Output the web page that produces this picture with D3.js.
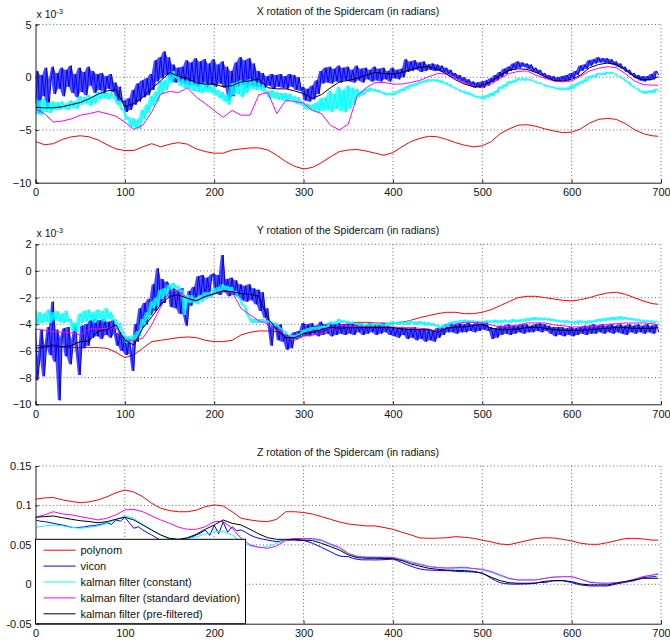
<!DOCTYPE html>
<html>
<head>
<meta charset="utf-8">
<script src="https://cdn.jsdelivr.net/npm/d3@7"></script>
<style>
  body { margin: 0; background: #fff; }
  text { font-family: Arial, "Liberation Sans", sans-serif; }
</style>
</head>
<body>
<svg id="chart" width="670" height="643"></svg>
<script>
// ----- sample times (smooth series every 10, mid every 5, noisy series every 2.5)
const t_slow = d3.range(0, 700, 10).concat([697]);
const t_mid = d3.range(0, 700, 5);
const t_fast = d3.range(0, 700, 2.5);

const legend_labels = ["polynom", "vicon", "kalman filter (constant)", "kalman filter (standard deviation)", "kalman filter (pre-filtered)"];
const series_colors = ["#ff0000", "#0000ff", "#00ffff", "#ff00ff", "#000000"];

// ----- X rotation (x 10^-3)
const x_polynom = [-6.1,-6.4,-6.3,-5.9,-5.65,-5.55,-5.65,-5.95,-6.4,-6.8,-6.95,-6.95,-6.6,-6.3,-6.6,-6.35,-6.2,-6.35,-6.8,-7.05,
  -7.2,-7.2,-6.9,-6.8,-6.7,-6.7,-6.9,-7.4,-8.0,-8.45,-8.7,-8.55,-8.1,-7.55,-7.05,-6.9,-6.85,-7.0,-7.2,-7.4,
  -7.15,-6.6,-6.1,-5.8,-5.6,-5.65,-5.9,-6.2,-6.45,-6.6,-6.5,-6.1,-5.35,-4.9,-4.55,-4.5,-4.65,-4.9,-5.1,-5.25,
  -5.2,-4.9,-4.35,-4.0,-3.9,-4.0,-4.4,-4.95,-5.35,-5.55,-5.6];
const x_vicon = [
  -2.5,0.6,-3.4,0.2,-1.8,0.9,-2.9,-0.2,1.0,-1.6,0.4,-1.1,0.9,-1.8,0.7,-0.9,1.1,-1.5,0.3,-1.9,
  0.9,-1.4,0.5,-1.7,1.0,-0.8,0.6,-1.5,0.3,-1.2,0.4,-1.6,0.1,-1.1,0.3,-1.4,-0.5,-2.2,-0.9,-2.4,
  -2.2,-3.3,-2.0,-3.1,-1.2,-2.6,-0.6,-2.3,-0.3,-1.9,-0.1,-1.7,0.3,-1.2,1.6,-0.4,1.9,-0.1,2.45,0.2,
  1.9,-0.3,1.2,-0.5,0.9,-0.4,1.0,-0.6,1.6,-0.8,1.4,-0.7,1.8,-0.9,1.5,-0.6,1.7,-1.0,1.3,-0.7,
  1.7,-0.9,1.2,-0.6,1.5,-1.0,1.0,-2.2,0.6,-1.8,1.4,-0.9,1.9,-0.7,1.6,-1.0,1.8,-0.8,1.3,-0.9,
  0.6,-0.9,0.4,-1.0,0.1,-0.8,0.3,-1.1,0.2,-0.9,0.3,-1.0,0.1,-1.1,0.3,-0.9,0.2,-1.2,0.0,-1.3,
  -0.9,-2.2,-1.1,-2.3,-0.8,-2.1,-0.3,-1.6,0.6,-0.6,0.9,-0.5,1.0,-0.6,0.8,-0.4,1.1,-0.5,0.9,-0.3,
  1.0,-0.4,0.7,-0.5,1.1,-0.3,0.8,-0.5,0.9,-0.2,0.7,-0.4,1.0,-0.3,0.8,-0.4,0.9,-0.2,0.6,-0.4,
  0.9,-0.1,0.7,-0.2,0.8,0.0,1.7,0.5,1.5,0.6,1.6,0.7,1.4,0.5,1.5,0.6,1.2,0.7,1.3,0.6,
  1.2,0.6,1.1,0.5,0.9,0.3,0.7,0.1,0.4,-0.2,0.2,-0.4,0.0,-0.6,-0.2,-0.8,-0.4,-1.0,-0.5,-1.0,
  -0.4,-1.0,-0.3,-0.8,-0.1,-0.5,0.2,-0.3,0.5,0.0,0.8,0.3,1.0,0.6,1.3,0.8,1.5,0.9,1.4,1.0,
  1.3,0.8,1.2,0.6,0.9,0.4,0.7,0.2,0.4,-0.1,0.2,-0.2,0.1,-0.4,0.0,-0.4,0.1,-0.3,0.2,-0.3,
  0.4,-0.1,0.6,0.2,1.1,0.6,1.2,0.8,1.6,1.1,1.7,1.3,1.9,1.4,1.8,1.4,1.8,1.3,1.7,1.2,
  1.5,1.0,1.3,0.8,1.0,0.5,0.7,0.2,0.4,-0.1,0.2,-0.3,0.1,-0.4,0.1,-0.3,0.3,-0.2,0.6,0.2];
const x_constant = [
  -1.9,-3.5,-2.2,-3.6,-2.0,-3.3,-2.4,-3.4,-2.3,-3.1,-2.4,-3.1,-2.3,-3.0,-2.5,-3.1,-2.2,-2.9,-2.3,-3.0,
  -1.8,-2.6,-1.9,-2.5,-1.7,-2.7,-1.8,-2.5,-1.4,-2.1,-1.3,-2.0,-1.5,-2.1,-1.4,-2.0,-1.8,-2.6,-2.2,-3.1,
  -3.2,-4.0,-3.8,-4.7,-3.9,-4.8,-4.0,-4.9,-3.1,-4.0,-2.6,-3.4,-1.8,-2.7,-1.4,-2.3,-0.4,-1.6,-0.3,-1.2,
  0.2,-0.6,0.6,-0.1,0.1,-0.8,-0.2,-1.0,-0.3,-1.1,-0.4,-1.3,-0.5,-1.4,-0.6,-1.5,-0.5,-1.4,-0.7,-1.5,
  -0.9,-1.7,-1.2,-2.0,-1.4,-2.3,-1.7,-2.6,-0.6,-1.7,-0.5,-1.6,-0.3,-1.9,-0.4,-1.5,-0.2,-1.1,-0.3,-1.2,
  -0.5,-1.2,-0.7,-1.5,-1.3,-2.0,-1.2,-2.0,-1.4,-2.1,-1.5,-2.2,-1.5,-2.3,-1.6,-2.2,-1.8,-2.5,-1.9,-2.6,
  -2.4,-3.0,-2.5,-3.1,-2.6,-3.2,-2.4,-3.3,-2.0,-3.2,-1.9,-3.1,-1.3,-3.3,-1.6,-3.0,-0.9,-3.2,-1.2,-3.3,
  -0.8,-3.0,-1.0,-2.6,-1.1,-1.9,-1.3,-1.7,-1.1,-1.4,-1.0,-1.3,-1.1,-1.4,-1.2,-1.5,-1.4,-1.7,-1.5,-1.7,
  -1.5,-1.7,-1.3,-1.5,-1.1,-1.3,-0.9,-1.1,-0.7,-0.9,-0.6,-0.8,-0.4,-0.6,-0.3,-0.5,-0.2,-0.4,-0.2,-0.4,
  -0.2,-0.5,-0.3,-0.6,-0.5,-0.8,-0.7,-1.0,-1.0,-1.2,-1.2,-1.4,-1.3,-1.6,-1.4,-1.7,-1.6,-1.9,-1.8,-2.0,
  -1.8,-2.1,-1.7,-1.9,-1.5,-1.8,-1.3,-1.5,-0.9,-1.1,-0.7,-0.9,-0.4,-0.6,-0.3,-0.5,-0.1,-0.3,-0.1,-0.3,
  -0.1,-0.3,-0.2,-0.4,-0.4,-0.6,-0.5,-0.7,-0.7,-0.9,-0.8,-1.0,-0.9,-1.1,-1.0,-1.2,-1.0,-1.2,-1.0,-1.2,
  -0.8,-1.1,-0.6,-0.8,-0.4,-0.6,-0.2,-0.4,0.1,-0.1,0.2,0.0,0.4,0.2,0.4,0.2,0.5,0.3,0.5,0.3,
  0.3,0.1,0.1,-0.2,-0.2,-0.5,-0.5,-0.8,-0.9,-1.1,-1.1,-1.4,-1.3,-1.6,-1.3,-1.5,-1.2,-1.5,-1.1,-1.3];
const x_stddev = [-3.0,-3.45,-4.25,-4.15,-3.95,-3.6,-3.45,-3.25,-3.45,-3.7,-4.25,-4.95,-4.55,-3.3,-1.6,-1.35,-1.45,-1.0,-1.9,-2.5,
  -3.15,-3.8,-3.15,-3.6,-3.6,-1.65,-1.45,-3.45,-2.2,-2.3,-2.45,-3.15,-3.45,-4.55,-5.0,-4.45,-1.75,-1.0,-0.5,-0.5,
  -0.65,-0.65,-0.5,-0.3,0.05,0.35,0.3,-0.1,-0.5,-0.85,-0.8,-0.65,-0.1,0.35,0.55,0.6,0.2,-0.1,-0.35,-0.45,
  -0.35,0.1,0.6,0.85,1.0,0.9,0.35,-0.35,-0.7,-0.75,-0.75];
const x_prefiltered = [-2.85,-2.9,-2.9,-2.8,-2.6,-2.4,-2.05,-1.6,-1.3,-1.2,-2.8,-2.5,-1.9,-1.1,-0.35,0.45,0.1,-0.1,-0.55,-0.65,
  -0.65,-0.9,-0.8,-0.45,-0.35,-0.15,-1.0,-1.1,-1.1,-1.3,-1.55,-2.0,-1.65,-1.0,-0.45,-0.3,-0.1,0.2,0.45,0.35,
  0.3,0.45,0.75,0.95,1.0,0.75,0.3,-0.25,-0.65,-0.9,-0.8,-0.4,0.2,0.65,0.8,0.75,0.45,0.05,-0.3,-0.35,
  -0.2,0.2,0.9,1.2,1.35,1.2,0.7,0.05,-0.25,-0.2,0.05];

// ----- Y rotation (x 10^-3)
const y_polynom = [-5.6,-5.6,-5.7,-5.7,-5.75,-5.75,-5.75,-5.75,-5.8,-6.1,-6.5,-6.3,-5.8,-5.3,-5.2,-5.1,-5.0,-4.95,-5.0,-5.2,
  -5.3,-5.3,-5.2,-4.8,-4.6,-4.5,-4.5,-4.55,-4.8,-4.95,-4.85,-4.8,-4.65,-4.3,-4.1,-3.95,-3.85,-3.85,-3.9,-3.9,
  -3.95,-3.85,-3.7,-3.5,-3.35,-3.2,-3.1,-3.1,-3.2,-3.2,-3.1,-2.9,-2.6,-2.3,-2.0,-1.9,-1.9,-2.0,-2.1,-2.2,
  -2.25,-2.15,-2.0,-1.8,-1.65,-1.6,-1.75,-2.0,-2.25,-2.45,-2.5];
const y_vicon = [
  -4.3,-8.2,-6.5,-4.4,-7.9,-5.6,-4.2,-6.3,-2.3,-6.8,-4.4,-9.7,-5.0,-4.3,-6.4,-4.2,-7.0,-5.2,-4.1,-6.2,
  -7.8,-4.1,-5.8,-4.0,-5.6,-3.7,-5.0,-3.6,-4.9,-3.7,-5.1,-3.6,-4.8,-3.8,-5.0,-3.7,-4.7,-5.6,-4.6,-6.0,
  -4.9,-6.3,-5.0,-6.2,-7.5,-4.0,-5.3,-2.8,-4.3,-2.4,-4.0,-2.1,-3.3,-1.0,-3.0,0.2,-2.6,-0.6,-2.4,-0.8,
  -1.1,-2.7,-1.3,-2.8,-1.4,-3.2,-1.3,-3.3,-4.1,-1.5,-2.6,-1.2,-2.1,-0.4,-1.9,-0.3,-2.0,-0.5,-1.8,-0.3,
  -0.2,-1.7,-0.3,-1.8,1.2,-1.6,-0.6,-1.9,-0.5,-1.8,-0.7,-1.9,-1.0,-2.2,-1.1,-2.3,-1.0,-2.2,-1.3,-2.5,
  -1.4,-3.0,-1.6,-3.5,-2.8,-4.3,-5.6,-3.9,-4.1,-5.2,-4.0,-5.3,-4.7,-5.9,-4.8,-5.8,-4.6,-5.1,-4.5,-5.0,
  -3.9,-4.8,-4.0,-4.9,-3.9,-4.7,-4.1,-4.9,-3.8,-4.8,-4.0,-4.7,-3.9,-4.9,-4.0,-4.8,-3.9,-4.7,-4.0,-4.8,
  -4.0,-4.7,-3.9,-4.8,-4.0,-4.6,-3.9,-4.8,-4.1,-4.7,-3.9,-4.6,-4.0,-4.8,-4.0,-4.7,-3.9,-4.6,-4.1,-4.8,
  -4.2,-4.9,-4.3,-5.0,-4.2,-4.8,-4.3,-5.1,-4.3,-5.0,-4.2,-5.2,-4.4,-5.1,-4.3,-5.3,-4.4,-5.2,-4.5,-5.3,
  -4.3,-5.0,-4.2,-4.8,-4.0,-4.6,-3.9,-4.6,-4.0,-4.7,-3.9,-4.6,-4.0,-4.6,-3.9,-4.5,-4.0,-4.6,-3.8,-4.5,
  -3.8,-4.4,-3.8,-4.5,-4.2,-5.1,-4.3,-5.0,-4.1,-4.8,-4.1,-4.7,-4.0,-4.8,-4.1,-4.7,-4.1,-4.6,-4.0,-4.7,
  -4.0,-4.6,-4.1,-4.6,-4.0,-4.5,-3.9,-4.6,-4.0,-4.5,-4.1,-4.7,-4.2,-4.9,-4.2,-4.8,-4.2,-4.9,-4.3,-4.8,
  -4.2,-4.9,-4.3,-4.8,-4.2,-4.7,-4.1,-4.8,-4.1,-4.7,-4.0,-4.7,-4.1,-4.6,-4.0,-4.7,-4.1,-4.6,-4.0,-4.7,
  -4.1,-4.6,-4.0,-4.7,-4.1,-4.8,-4.0,-4.6,-4.1,-4.7,-4.0,-4.6,-4.1,-4.7,-4.0,-4.6,-4.1,-4.7,-4.0,-4.6];
const y_constant = [
  -2.9,-4.0,-3.1,-3.9,-3.2,-3.8,-2.9,-3.9,-3.1,-3.7,-3.0,-3.8,-3.2,-3.9,-3.0,-3.8,-3.6,-4.5,-3.9,-4.6,
  -3.2,-3.9,-3.0,-3.8,-2.9,-3.7,-3.1,-3.9,-2.9,-3.6,-3.0,-3.8,-2.8,-3.6,-3.1,-3.7,-3.6,-4.3,-3.9,-4.5,
  -4.8,-5.4,-4.9,-5.3,-4.8,-5.2,-4.5,-4.9,-3.6,-4.1,-3.1,-3.6,-2.3,-2.8,-2.0,-2.6,-1.4,-2.1,-1.3,-1.9,
  -1.0,-1.4,-0.9,-1.3,-1.1,-1.6,-1.4,-3.3,-1.8,-2.4,-1.8,-2.4,-2.0,-2.5,-1.8,-2.3,-1.6,-2.1,-1.6,-2.0,
  -1.3,-1.7,-1.2,-1.6,-1.0,-1.4,-1.1,-1.5,-1.2,-1.6,-1.5,-2.0,-2.1,-2.6,-2.6,-3.2,-3.5,-3.9,-3.6,-3.9,
  -3.6,-3.9,-3.6,-3.8,-3.7,-3.9,-3.8,-4.1,-3.9,-4.2,-4.3,-4.5,-4.5,-4.8,-4.8,-5.0,-4.8,-5.0,-4.7,-4.9,
  -4.4,-4.6,-4.3,-4.5,-4.2,-4.4,-4.2,-4.4,-4.1,-4.3,-4.1,-4.3,-3.8,-4.0,-3.8,-4.0,-3.6,-3.9,-3.7,-3.9,
  -3.75,-3.95,-3.8,-4.0,-3.9,-4.1,-3.9,-4.15,-3.95,-4.1,-3.9,-4.15,-3.95,-4.1,-3.9,-4.1,-3.95,-4.15,-3.9,-4.1,
  -3.75,-4.0,-3.8,-4.05,-3.75,-4.0,-3.8,-4.05,-3.7,-3.95,-3.8,-4.05,-3.75,-4.0,-3.8,-4.1,-3.85,-4.1,-3.9,-4.15,
  -4.05,-4.3,-4.1,-4.3,-4.0,-4.2,-3.8,-4.0,-3.75,-3.95,-3.7,-3.9,-3.65,-3.85,-3.7,-3.9,-3.7,-3.9,-3.75,-3.95,
  -3.75,-3.95,-3.7,-3.9,-3.7,-3.9,-3.65,-3.9,-3.7,-3.9,-3.65,-3.85,-3.7,-3.9,-3.6,-3.85,-3.65,-3.85,-3.6,-3.8,
  -3.55,-3.75,-3.5,-3.7,-3.45,-3.7,-3.5,-3.7,-3.5,-3.7,-3.55,-3.75,-3.6,-3.8,-3.65,-3.85,-3.7,-3.9,-3.7,-3.9,
  -3.75,-3.95,-3.75,-3.95,-3.7,-3.9,-3.75,-3.95,-3.7,-3.9,-3.7,-3.85,-3.6,-3.8,-3.55,-3.75,-3.5,-3.7,-3.45,-3.7,
  -3.45,-3.65,-3.4,-3.65,-3.45,-3.65,-3.5,-3.7,-3.55,-3.75,-3.6,-3.8,-3.65,-3.85,-3.7,-3.85,-3.7,-3.9,-3.75,-3.9];
const y_stddev = [-4.35,-4.45,-4.55,-4.6,-4.65,-4.8,-4.35,-4.35,-4.3,-4.25,-5.2,-5.2,-5.05,-4.05,-2.7,-1.5,-1.5,-2.05,-2.2,-1.95,
  -1.75,-1.5,-1.6,-2.8,-3.3,-3.75,-3.95,-4.3,-4.85,-5.2,-4.9,-4.8,-4.7,-4.4,-4.05,-4.15,-4.2,-4.2,-4.25,-4.2,
  -4.2,-4.25,-4.25,-4.3,-4.35,-4.55,-4.3,-4.0,-3.85,-3.85,-3.9,-4.05,-4.2,-4.15,-4.05,-3.9,-3.9,-3.9,-4.05,-4.1,
  -4.2,-4.2,-4.2,-4.1,-4.0,-3.95,-3.9,-3.9,-3.9,-3.95,-4.05];
const y_prefiltered = [-5.8,-5.7,-5.55,-5.7,-5.6,-5.3,-5.25,-4.5,-4.4,-4.05,-5.2,-5.55,-4.3,-3.45,-2.55,-1.9,-1.8,-2.05,-2.25,-1.9,
  -1.7,-1.5,-1.55,-1.7,-1.75,-1.9,-3.55,-4.4,-5.0,-5.0,-4.7,-4.6,-4.4,-4.2,-4.3,-4.25,-4.25,-4.25,-4.25,-4.25,
  -4.25,-4.35,-4.4,-4.4,-4.4,-4.6,-4.3,-4.2,-4.2,-4.1,-4.0,-4.3,-4.4,-4.4,-4.35,-4.25,-4.2,-4.3,-4.4,-4.45,
  -4.45,-4.45,-4.4,-4.35,-4.3,-4.25,-4.25,-4.3,-4.3,-4.3,-4.25];

// ----- Z rotation
const z_polynom = [0.108,0.1095,0.110,0.107,0.105,0.1035,0.1045,0.107,0.111,0.116,0.1196,0.117,0.111,0.1027,0.0964,0.0934,0.092,0.092,0.094,0.0985,
  0.1006,0.0993,0.092,0.0837,0.0816,0.080,0.0795,0.0824,0.092,0.092,0.091,0.089,0.0858,0.0824,0.079,0.0765,0.0752,0.074,0.074,0.072,
  0.0697,0.066,0.0626,0.0588,0.0583,0.0585,0.059,0.0604,0.0596,0.0583,0.056,0.0537,0.051,0.0503,0.0528,0.0554,0.058,0.059,0.0587,0.057,
  0.055,0.052,0.0507,0.0507,0.0528,0.0554,0.058,0.0583,0.0575,0.056,0.056];
const z_vicon = [0.0816,0.080,0.0795,0.0785,0.0773,0.0762,0.0752,0.074,0.0723,0.0718,0.0723,0.0728,0.074,0.0745,0.0752,0.0765,0.078,0.076,0.0816,0.080,
  0.085,0.078,0.071,0.073,0.0689,0.0655,0.0626,0.059,0.056,0.0555,0.056,0.0555,0.056,0.057,0.0583,0.060,0.0626,0.065,0.0689,0.062,
  0.075,0.064,0.079,0.066,0.073,0.068,0.0689,0.066,0.0626,0.060,0.0583,0.057,0.056,0.055,0.054,0.055,0.0555,0.056,0.056,0.0555,
  0.0555,0.054,0.052,0.0495,0.0469,0.044,0.0414,0.0385,0.036,0.0352,0.035,0.033,0.0317,0.031,0.031,0.031,0.0309,0.031,0.0312,0.0315,
  0.032,0.030,0.0275,0.025,0.0232,0.021,0.0195,0.0185,0.018,0.0178,0.0175,0.0173,0.0173,0.017,0.0165,0.016,0.016,0.0158,0.0155,0.015,
  0.014,0.011,0.0076,0.0045,0.002,0.001,0.0004,0.0002,0.0002,0.0003,0.0004,0.0008,0.0015,0.0025,0.0021,0.0035,0.0046,0.0046,0.0046,0.0035,
  0.0021,0.0005,-0.0008,-0.0015,-0.0021,-0.0021,-0.0021,-0.0021,-0.0021,-0.001,0.0004,0.0015,0.0025,0.0035,0.0046,0.0065,0.0085,0.009,0.0095,0.0097];
const z_constant = [0.0723,0.074,0.0752,0.074,0.0723,0.071,0.0723,0.074,0.0773,0.0824,0.0866,0.0837,0.0752,0.0689,0.0626,0.057,0.056,0.058,0.060,0.0638,
  0.0668,0.0668,0.0626,0.054,0.0486,0.0469,0.0478,0.052,0.056,0.058,0.0575,0.057,0.055,0.050,0.0456,0.0385,0.036,0.0348,0.035,0.0345,
  0.0342,0.032,0.0287,0.026,0.0232,0.0215,0.0203,0.0203,0.0203,0.020,0.018,0.015,0.0106,0.0068,0.0055,0.0055,0.0055,0.0075,0.0097,0.0097,
  0.0097,0.0065,0.0034,0.0018,0.0013,0.002,0.0034,0.0063,0.0097,0.012,0.014];
const z_stddev = [0.085,0.088,0.092,0.0892,0.088,0.0858,0.0837,0.0816,0.0837,0.088,0.0943,0.095,0.092,0.0866,0.0816,0.0773,0.0723,0.0697,0.0697,0.073,
  0.0795,0.0795,0.071,0.0583,0.050,0.0469,0.0456,0.0486,0.056,0.058,0.058,0.058,0.056,0.051,0.0469,0.0393,0.035,0.0342,0.0338,0.034,
  0.0342,0.031,0.0275,0.025,0.0224,0.021,0.0207,0.021,0.0216,0.020,0.019,0.016,0.0118,0.0076,0.0055,0.0055,0.0055,0.0075,0.0089,0.0095,
  0.0097,0.0063,0.0025,0.0015,0.0013,0.002,0.0034,0.0063,0.0097,0.0115,0.0127];
const z_prefiltered = [0.085,0.0858,0.0866,0.0845,0.0824,0.0807,0.0795,0.078,0.0795,0.0824,0.085,0.0816,0.0752,0.0689,0.0626,0.0583,0.057,0.059,0.0634,0.0697,
  0.0752,0.0816,0.0773,0.0752,0.0697,0.0638,0.059,0.057,0.057,0.057,0.056,0.0554,0.052,0.0478,0.0435,0.0372,0.0338,0.033,0.033,0.0328,
  0.0325,0.030,0.0258,0.023,0.0203,0.019,0.018,0.0177,0.0173,0.0165,0.014,0.0089,0.0046,0.002,0.0013,0.0013,0.0015,0.0038,0.0045,0.0046,
  0.0034,0.0004,-0.0008,-0.0008,-0.0008,0.0013,0.0034,0.0055,0.0076,0.0076,0.0076];

// ----- panel definitions (noisy = draw the sample-to-sample spread as a filled band under the line)
const panels = [
  { title: "X rotation of the Spidercam (in radians)", top: 24.5, bottom: 182.7, domain: [-10, 5], ticks: [-10, -5, 0, 5],
    fmt: d3.format("d"), exponent: true,
    series: [[t_slow, x_polynom], [t_fast, x_vicon, true], [t_fast, x_constant, true], [t_slow, x_stddev], [t_slow, x_prefiltered]] },
  { title: "Y rotation of the Spidercam (in radians)", top: 244.3, bottom: 404.3, domain: [-10, 2], ticks: [-10, -8, -6, -4, -2, 0, 2],
    fmt: d3.format("d"), exponent: true,
    series: [[t_slow, y_polynom], [t_fast, y_vicon, true], [t_fast, y_constant, true], [t_slow, y_stddev], [t_slow, y_prefiltered]] },
  { title: "Z rotation of the Spidercam (in radians)", top: 466, bottom: 623.7, domain: [-0.05, 0.15], ticks: [-0.05, 0, 0.05, 0.1, 0.15],
    fmt: d => d === 0 ? "0" : String(+d.toFixed(2)), exponent: false, legend: true,
    series: [[t_slow, z_polynom], [t_mid, z_vicon], [t_slow, z_constant], [t_slow, z_stddev], [t_slow, z_prefiltered]] }
];

const plot_left = 35.5, plot_right = 661;
const x_ticks = d3.range(0, 701, 100);
const svg = d3.select("#chart");

const x_scale = d3.scaleLinear().domain([0, 700]).range([plot_left, plot_right]);

panels.forEach((p, i) => {
    const y_scale = d3.scaleLinear().domain(p.domain).range([p.bottom, p.top]);
    const g = svg.append("g");

    // clip region for the data lines
    svg.append("clipPath").attr("id", "clip" + i)
        .append("rect")
        .attr("x", plot_left).attr("y", p.top)
        .attr("width", plot_right - plot_left).attr("height", p.bottom - p.top);

    // dotted grid
    g.selectAll(".vgrid").data(x_ticks.slice(1))
        .join("line")
        .attr("x1", d => x_scale(d)).attr("x2", d => x_scale(d))
        .attr("y1", p.top).attr("y2", p.bottom)
        .attr("stroke", "#444").attr("stroke-width", 0.8).attr("stroke-dasharray", "1,2.5");
    g.selectAll(".hgrid").data(p.ticks.slice(1))
        .join("line")
        .attr("x1", plot_left).attr("x2", plot_right)
        .attr("y1", d => y_scale(d)).attr("y2", d => y_scale(d))
        .attr("stroke", "#444").attr("stroke-width", 0.8).attr("stroke-dasharray", "1,2.5");

    // data lines
    const lines = g.append("g").attr("clip-path", `url(#clip${i})`);
    p.series.forEach((s, k) => {
        const pts = s[1].map((v, j) => [s[0][j], v]);
        if (s[2]) {
            // spread between neighbouring samples, filled
            const band = d3.pairs(pts).map(([a, b]) => [a[0], Math.min(a[1], b[1]), Math.max(a[1], b[1])]);
            lines.append("path")
                .datum(band)
                .attr("fill", series_colors[k])
                .attr("fill-opacity", 0.7)
                .attr("d", d3.area().x(d => x_scale(d[0])).y0(d => y_scale(d[1])).y1(d => y_scale(d[2])));
        }
        lines.append("path")
            .datum(pts)
            .attr("fill", "none")
            .attr("stroke", series_colors[k])
            .attr("stroke-width", 1)
            .attr("stroke-linejoin", "round")
            .attr("d", d3.line().x(d => x_scale(d[0])).y(d => y_scale(d[1])));
    });

    // axes (left and bottom solid, inward ticks)
    const x_axis = g.append("g")
        .attr("transform", `translate(0, ${p.bottom})`)
        .call(d3.axisBottom(x_scale).tickValues(x_ticks).tickSize(-3).tickPadding(6).tickFormat(d3.format("d")));
    const y_axis = g.append("g")
        .attr("transform", `translate(${plot_left}, 0)`)
        .call(d3.axisLeft(y_scale).tickValues(p.ticks).tickSize(-3).tickPadding(4).tickFormat(p.fmt));
    [x_axis, y_axis].forEach(a => {
        a.select(".domain").attr("stroke", "#222");
        a.selectAll(".tick line").attr("stroke", "#222");
        a.selectAll("text").attr("fill", "#111").style("font-size", "11px");
    });

    // title
    g.append("text")
        .attr("x", 348).attr("y", p.top - 10)
        .attr("text-anchor", "middle")
        .style("font-size", "10.5px").attr("fill", "#111")
        .text(p.title);

    // exponent label
    if (p.exponent) {
        const e = g.append("text")
            .attr("x", plot_left + 1).attr("y", p.top - 7)
            .style("font-size", "10.5px").attr("fill", "#111");
        e.append("tspan").text("x 10");
        e.append("tspan").attr("dy", -4).style("font-size", "7.5px").text("-3");
    }

    // legend
    if (p.legend) {
        const lg = g.append("g");
        const lx = plot_left, ly = 539.3, lw = 210, lh = p.bottom - ly;
        lg.append("rect")
            .attr("x", lx).attr("y", ly).attr("width", lw).attr("height", lh)
            .attr("fill", "#fff").attr("stroke", "#000").attr("stroke-width", 1);
        legend_labels.forEach((lab, k) => {
            const yy = 550.2 + k * 15.9;
            lg.append("line")
                .attr("x1", lx + 8).attr("x2", lx + 40)
                .attr("y1", yy).attr("y2", yy)
                .attr("stroke", series_colors[k]).attr("stroke-width", 1);
            lg.append("text")
                .attr("x", lx + 45).attr("y", yy + 4)
                .style("font-size", "11px").attr("fill", "#111")
                .text(lab);
        });
    }
});
</script>
</body>
</html>
